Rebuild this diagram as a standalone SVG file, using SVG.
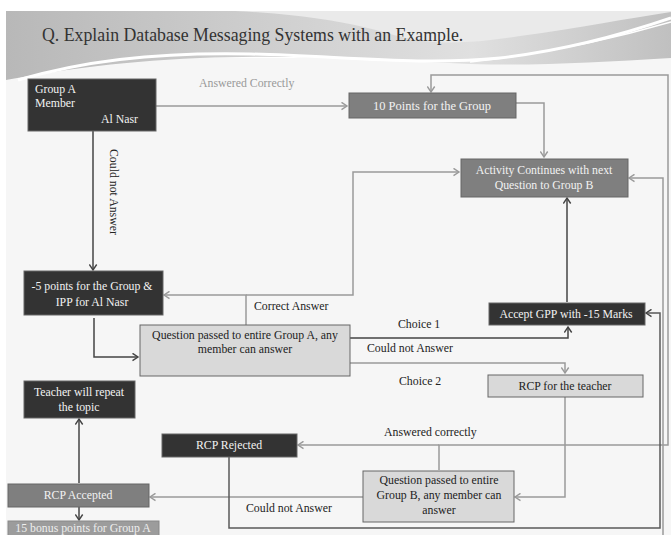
<svg xmlns="http://www.w3.org/2000/svg" width="671" height="535" viewBox="0 0 671 535">
<defs>
<linearGradient id="banner" x1="0" y1="0" x2="1" y2="0">
<stop offset="0" stop-color="#b8b8b8"/>
<stop offset="0.45" stop-color="#d2d2d2"/>
<stop offset="0.7" stop-color="#e0e0e0"/>
<stop offset="1" stop-color="#c0c0c0"/>
</linearGradient>
<marker id="ag" markerWidth="9" markerHeight="9" refX="7" refY="4.5" orient="auto" markerUnits="userSpaceOnUse"><path d="M1.5,0.8 L7,4.5 L1.5,8.2" fill="none" stroke="#9a9a9a" stroke-width="1.4"/></marker>
<marker id="ad" markerWidth="9" markerHeight="9" refX="7" refY="4.5" orient="auto" markerUnits="userSpaceOnUse"><path d="M1.5,0.8 L7,4.5 L1.5,8.2" fill="none" stroke="#444" stroke-width="1.4"/></marker>
<style>
text{font-family:"Liberation Serif","DejaVu Serif",serif;font-size:11.8px}
.dk rect{fill:#333;stroke:#666;stroke-width:1}
.md rect{fill:#7f7f7f;stroke:#666;stroke-width:1}
.lt rect{fill:#d9d9d9;stroke:#666;stroke-width:1}
.dk text,.md text{fill:#f2f2f2}
.lt text{fill:#222}
.c{text-anchor:middle}
.g{fill:none;stroke:#9a9a9a;stroke-width:1.5}
.d{fill:none;stroke:#444;stroke-width:1.5}
.lab{fill:#222}
.labg{fill:#999}
</style>
</defs>
<rect width="671" height="535" fill="#ffffff"/>
<rect x="6" y="58" width="665" height="477" fill="#f6f6f6"/>
<g id="banner-bg">
<path d="M6,11 H671 V58 C600,62 540,66 470,64 C380,60 300,54 200,58 C110,62 50,72 6,80 Z" fill="url(#banner)"/>
<path d="M235,11 C300,14 350,22 390,34 C430,46 470,44 520,36 C580,28 630,18 671,12 V11 Z" fill="#eaeaea"/>
<path d="M18,80 C80,62 150,52 250,54 C340,56 420,66 500,58 C570,50 630,32 671,18" fill="none" stroke="#ffffff" stroke-width="3"/>
<path d="M470,62 C560,52 630,34 671,22" fill="none" stroke="#ffffff" stroke-width="1.5"/>
</g>
<text x="42" y="41" style="font-size:17.8px" fill="#333">Q. Explain Database Messaging Systems with an Example.</text>

<g id="connectors">
<path class="g" d="M156,106 H347" marker-end="url(#ag)"/>
<path class="d" d="M93,131 V270" marker-end="url(#ad)"/>
<path class="g" d="M516,103 H544 V157" marker-end="url(#ag)"/>
<path class="g" d="M439,470 V445 H668 V75 H431 V92" marker-end="url(#ag)"/>
<path class="g" d="M439,445 H298" marker-end="url(#ag)"/>
<path class="g" d="M246,325 V295 H164" marker-end="url(#ag)"/>
<path class="g" d="M246,295 H353 V172 H459" marker-end="url(#ag)"/>
<path class="d" d="M94,318 V357 H138" marker-end="url(#ad)"/>
<path class="d" d="M350,338 H568 V327" marker-end="url(#ad)"/>
<path class="g" d="M350,363 H565 V373" marker-end="url(#ag)"/>
<path class="d" d="M567,302 V198" marker-end="url(#ad)"/>
<path class="g" d="M565,397 V497 H515" marker-end="url(#ag)"/>
<path class="g" d="M363,497 H150" marker-end="url(#ag)"/>
<path class="d" d="M79,483 V419" marker-end="url(#ad)"/>
<path class="d" d="M79,507 V520" marker-end="url(#ad)"/>
<path d="M229,457 V528 H660 V313 H646" fill="none" stroke="#5a5a5a" stroke-width="1.5" marker-end="url(#ad)"/>
<path class="g" d="M663,535 V178 H629" marker-end="url(#ag)"/>
<text class="labg" x="199" y="87">Answered Correctly</text>
<text class="lab" x="110" y="149" transform="rotate(90 110 149)">Could not Answer</text>
<text class="lab" x="254" y="310">Correct Answer</text>
<text class="lab" x="398" y="328">Choice 1</text>
<text class="lab" x="367" y="352">Could not Answer</text>
<text class="lab" x="399" y="385">Choice 2</text>
<text class="lab" x="384" y="436">Answered correctly</text>
<text class="lab" x="246" y="512">Could not Answer</text>
</g>

<g id="groupA" class="dk">
<rect x="28" y="79" width="128" height="52"/>
<text x="35" y="93">Group A</text>
<text x="35" y="107">Member</text>
<text x="101" y="123">Al Nasr</text>
</g>
<g id="tenPoints" class="md">
<rect x="349" y="93" width="167" height="25"/>
<text class="c" x="432" y="110" style="font-size:12.5px">10 Points  for the  Group</text>
</g>
<g id="activity" class="md">
<rect x="461" y="159" width="167" height="38"/>
<text class="c" x="544" y="174">Activity Continues with next</text>
<text class="c" x="544" y="189">Question to Group B</text>
</g>
<g id="minusFive" class="dk">
<rect x="24" y="271" width="139" height="44"/>
<text class="c" x="92" y="290">-5 points for the Group &amp;</text>
<text class="c" x="92" y="306">IPP for Al Nasr</text>
</g>
<g id="questionA" class="lt">
<rect x="140" y="325" width="210" height="51"/>
<text class="c" x="245" y="339">Question passed to entire Group A, any</text>
<text class="c" x="245" y="353">member can answer</text>
</g>
<g id="acceptGPP" class="dk">
<rect x="489" y="303" width="156" height="22"/>
<text class="c" x="566" y="318">Accept GPP with -15 Marks</text>
</g>
<g id="rcpTeacher" class="lt">
<rect x="488" y="375" width="155" height="22"/>
<text class="c" x="565" y="390">RCP for the teacher</text>
</g>
<g id="teacher" class="dk">
<rect x="24" y="381" width="111" height="37"/>
<text class="c" x="79" y="396">Teacher will repeat</text>
<text class="c" x="79" y="411">the topic</text>
</g>
<g id="rcpRejected" class="dk">
<rect x="162" y="434" width="135" height="23"/>
<text class="c" x="229" y="449">RCP Rejected</text>
</g>
<g id="questionB" class="lt">
<rect x="363" y="471" width="151" height="51"/>
<text class="c" x="439" y="484">Question passed to entire</text>
<text class="c" x="439" y="499">Group B, any member can</text>
<text class="c" x="439" y="514">answer</text>
</g>
<g id="rcpAccepted" class="md">
<rect x="8" y="484" width="141" height="23"/>
<text class="c" x="78" y="499">RCP Accepted</text>
</g>
<g id="bonus">
<rect x="8" y="521" width="151" height="20" fill="#9c9c9c" stroke="#888"/>
<text class="c" x="83" y="532" fill="#eeeeee">15 bonus points for Group A</text>
</g>
</svg>
